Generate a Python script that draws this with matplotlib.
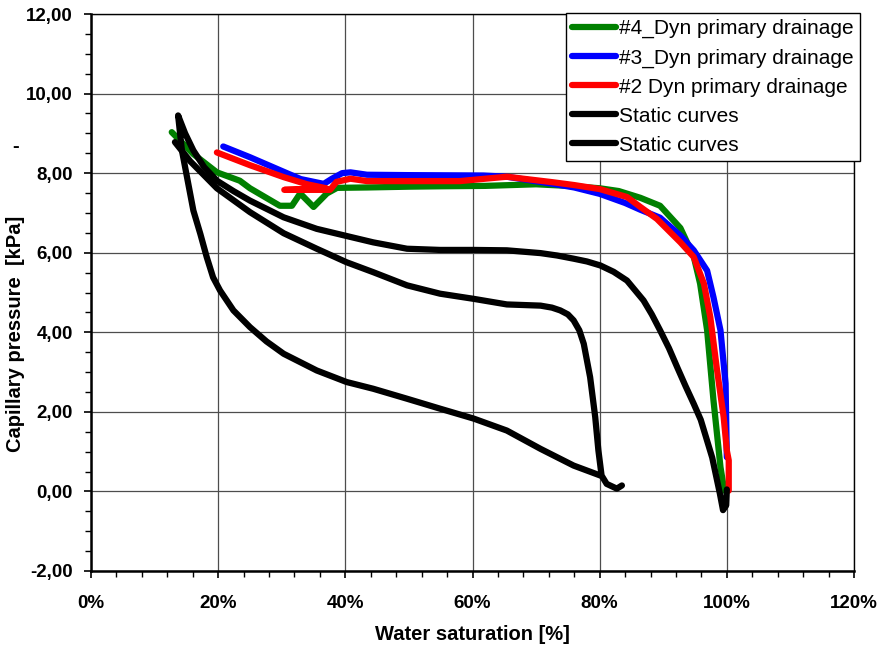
import matplotlib
matplotlib.use("Agg")
import matplotlib.pyplot as plt
from matplotlib.ticker import MultipleLocator, FuncFormatter

plt.rcParams['font.family'] = ['Liberation Sans', 'DejaVu Sans']

# Water saturation [%] and capillary pressure [kPa] per series
green_sw = [12.7, 16.1, 19.8, 23.4, 25.0, 29.7, 31.6, 32.9, 35.0, 37.1, 38.7, 43.4,
            50.0, 55.0, 62.0, 70.0, 75.0, 80.0, 83.0, 86.4, 89.5, 92.7, 94.8, 95.8,
            96.9, 97.9, 99.0, 99.6]
green_pc = [9.03, 8.48, 8.02, 7.81, 7.62, 7.18, 7.18, 7.49, 7.15, 7.49, 7.63, 7.64,
            7.66, 7.67, 7.68, 7.72, 7.68, 7.62, 7.55, 7.38, 7.18, 6.62, 5.90, 5.22,
            4.05, 2.29, 0.61, 0.02]

blue_sw = [20.8, 25.0, 30.8, 33.0, 36.6, 37.9, 39.5, 40.8, 43.4, 50.0, 61.7, 65.4,
           72.7, 76.0, 80.0, 84.0, 86.4, 89.5, 92.7, 94.8, 96.9, 97.9, 99.0, 99.8, 100.0]
blue_pc = [8.67, 8.40, 8.00, 7.85, 7.73, 7.86, 8.00, 8.02, 7.96, 7.95, 7.94, 7.91,
           7.73, 7.64, 7.48, 7.25, 7.08, 6.88, 6.43, 6.06, 5.55, 4.88, 4.05, 2.71, 0.86]

red_sw = [19.8, 25.0, 30.3, 34.0, 37.0, 30.4, 37.6, 38.6, 40.8, 43.4, 50.0, 58.0,
          62.0, 65.4, 72.7, 76.0, 80.0, 84.3, 86.4, 89.0, 92.7, 94.8, 96.4, 97.4,
          98.4, 99.5, 100.0, 100.3, 100.3]
red_pc = [8.52, 8.20, 7.90, 7.72, 7.62, 7.58, 7.58, 7.78, 7.86, 7.80, 7.80, 7.80,
          7.86, 7.91, 7.77, 7.70, 7.60, 7.40, 7.15, 6.85, 6.26, 5.89, 5.22, 4.38,
          3.12, 1.87, 1.03, 0.78, 0.02]

static1_sw = [100.0, 99.9, 99.4, 98.9, 97.7, 95.9, 94.8, 93.5, 92.2, 90.9, 89.5,
              88.2, 86.9, 85.6, 84.3, 82.2, 80.1, 78.0, 75.9, 73.3, 70.7, 65.4,
              60.2, 54.9, 49.7, 44.4, 40.2, 35.5, 30.3, 25.0, 22.4, 19.8, 17.8,
              16.1, 14.8, 13.7, 14.3, 15.1, 16.1, 17.2, 18.2, 19.2, 20.3, 22.4,
              25.0, 27.6, 30.3, 35.5, 40.2, 44.4, 49.7, 54.9, 60.2, 65.4, 70.7,
              75.9, 80.1]
static1_pc = [0.05, -0.35, -0.47, -0.05, 0.85, 1.80, 2.20, 2.65, 3.12, 3.60, 4.05,
              4.45, 4.80, 5.05, 5.30, 5.52, 5.68, 5.78, 5.85, 5.93, 5.99, 6.06,
              6.07, 6.07, 6.10, 6.26, 6.42, 6.60, 6.89, 7.31, 7.55, 7.81, 8.15,
              8.57, 9.00, 9.45, 8.57, 7.90, 7.06, 6.47, 5.89, 5.38, 5.05, 4.55,
              4.13, 3.77, 3.46, 3.04, 2.75, 2.58, 2.33, 2.08, 1.83, 1.53, 1.07,
              0.65, 0.40]

static2_sw = [13.2, 15.6, 19.8, 25.0, 30.3, 35.5, 40.2, 44.4, 49.7, 54.9, 60.2,
              65.4, 70.7, 72.5, 73.8, 75.0, 75.9, 76.8, 77.5, 78.5, 79.3, 79.8,
              80.3, 81.1, 82.7, 83.5]
static2_pc = [8.78, 8.30, 7.62, 7.02, 6.49, 6.10, 5.76, 5.51, 5.18, 4.97, 4.84,
              4.70, 4.67, 4.62, 4.55, 4.45, 4.30, 4.05, 3.71, 2.87, 1.87, 1.03,
              0.40, 0.19, 0.07, 0.15]

labels = ["#4_Dyn primary drainage", "#3_Dyn primary drainage",
          "#2 Dyn primary drainage", "Static curves", "Static curves"]

fig = plt.figure(figsize=(8.85, 6.48), dpi=100)
ax = fig.add_axes([91 / 885, 77 / 648, 763 / 885, 557 / 648])

lw = 4.5
style = dict(lw=lw, solid_capstyle='round', solid_joinstyle='round')
h1, = ax.plot(green_sw, green_pc, color='#008000', zorder=3, **style)
h2, = ax.plot(blue_sw, blue_pc, color='#0000ff', zorder=4, **style)
h3, = ax.plot(red_sw, red_pc, color='#ff0000', zorder=5, **style)
h4, = ax.plot(static1_sw, static1_pc, color='black', zorder=6, **style)
h5, = ax.plot(static2_sw, static2_pc, color='black', zorder=6, **style)

ax.set_xlim(0, 120)
ax.set_ylim(-2, 12)
ax.xaxis.set_major_locator(MultipleLocator(20))
ax.xaxis.set_minor_locator(MultipleLocator(4))
ax.yaxis.set_major_locator(MultipleLocator(2))
ax.yaxis.set_minor_locator(MultipleLocator(0.5))
ax.xaxis.set_major_formatter(FuncFormatter(lambda v, p: f"{v:.0f}%"))
ax.yaxis.set_major_formatter(FuncFormatter(lambda v, p: f"{v:.2f}".replace('.', ',')))

ax.grid(which='major', color='#4d4d4d', lw=0.9, zorder=1)
ax.set_axisbelow(True)
for side in ('top', 'right'):
    ax.spines[side].set_linewidth(1.0)
for side in ('left', 'bottom'):
    ax.spines[side].set_linewidth(1.8)

ax.tick_params(which='major', direction='out', length=5, width=1.2, labelsize=13.5)
ax.tick_params(which='minor', direction='out', length=4, width=1.0)
ax.tick_params(axis='y', which='major', pad=8)
ax.tick_params(axis='x', which='major', pad=12)
for t in ax.get_xticklabels() + ax.get_yticklabels():
    t.set_fontweight('bold')

fig.text(472 / 885, 1 - 635 / 648, "Water saturation [%]", ha='center', va='center',
         fontsize=14.5, fontweight='bold')
fig.text(16 / 885, 1 - 334 / 648, "Capillary pressure  [kPa]", ha='center', va='center',
         rotation=90, fontsize=14.5, fontweight='bold')
fig.text(16 / 885, 1 - 147 / 648, "-", ha='center', va='center',
         fontsize=14.5, fontweight='bold')

leg = fig.legend([h1, h2, h3, h4, h5], labels, loc='upper right',
                 bbox_to_anchor=(860 / 885, 1 - 13 / 648), bbox_transform=fig.transFigure,
                 fontsize=15, frameon=True, fancybox=False, framealpha=1,
                 edgecolor='black', handlelength=2.1, handletextpad=0.15,
                 borderpad=0.3, labelspacing=0.48, borderaxespad=0)
leg.get_frame().set_linewidth(1.0)

fig.savefig("out.png", dpi=100)
